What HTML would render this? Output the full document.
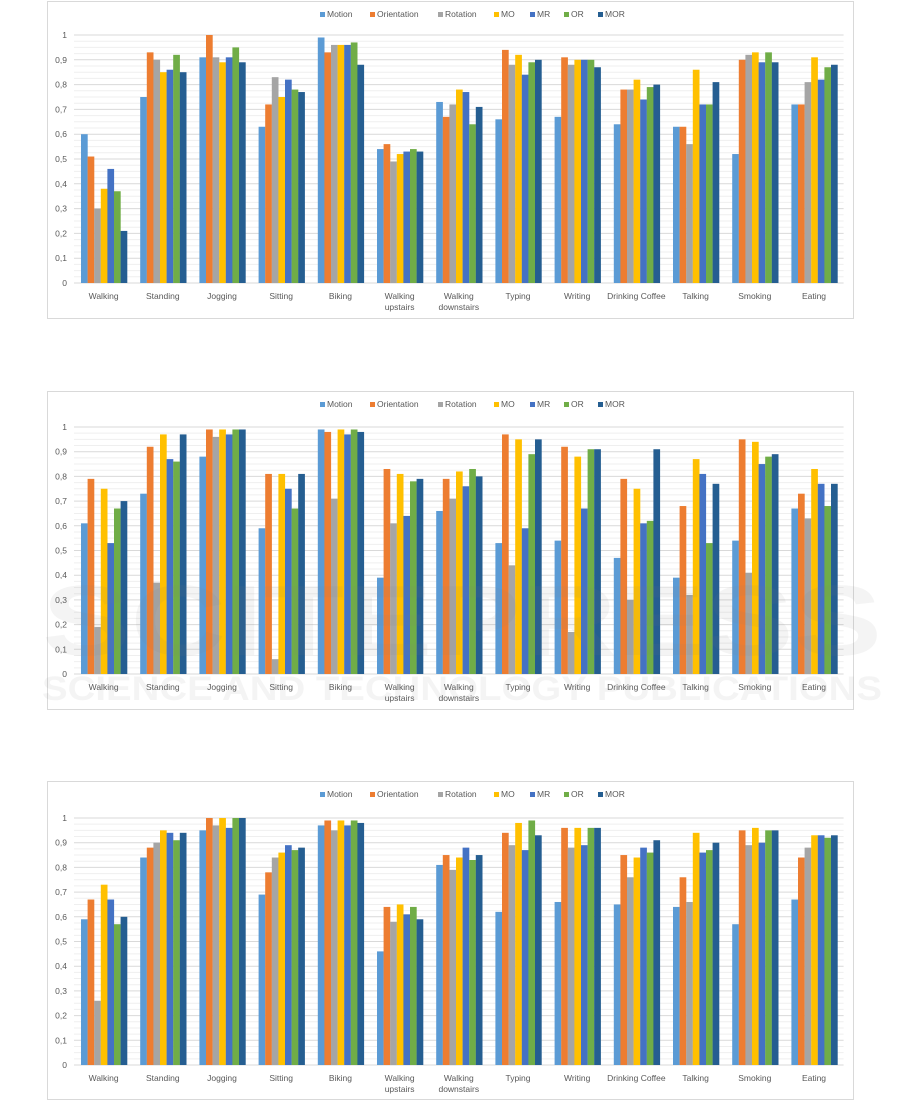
<!DOCTYPE html>
<html><head><meta charset="utf-8">
<style>
html,body{margin:0;padding:0;background:#fff;}
body{width:901px;height:1101px;position:relative;overflow:hidden;font-family:"Liberation Sans",sans-serif;}
svg{position:absolute;left:0;top:0;}
</style></head>
<body>
<svg id="s" width="901" height="1101" xmlns="http://www.w3.org/2000/svg"></svg>
<script>
const colors=["#5B9BD5","#ED7D31","#A5A5A5","#FFC000","#4472C4","#70AD47","#255E91"];
const names=["Motion","Orientation","Rotation","MO","MR","OR","MOR"];
const cats=[["Walking"],["Standing"],["Jogging"],["Sitting"],["Biking"],["Walking","upstairs"],["Walking","downstairs"],["Typing"],["Writing"],["Drinking Coffee"],["Talking"],["Smoking"],["Eating"]];
const data=[
[[.60,.51,.30,.38,.46,.37,.21],[.75,.93,.90,.85,.86,.92,.85],[.91,1.0,.91,.89,.91,.95,.89],[.63,.72,.83,.75,.82,.78,.77],[.99,.93,.96,.96,.96,.97,.88],[.54,.56,.49,.52,.53,.54,.53],[.73,.67,.72,.78,.77,.64,.71],[.66,.94,.88,.92,.84,.89,.90],[.67,.91,.88,.90,.90,.90,.87],[.64,.78,.78,.82,.74,.79,.80],[.63,.63,.56,.86,.72,.72,.81],[.52,.90,.92,.93,.89,.93,.89],[.72,.72,.81,.91,.82,.87,.88]],
[[.61,.79,.19,.75,.53,.67,.70],[.73,.92,.37,.97,.87,.86,.97],[.88,.99,.96,.99,.97,.99,.99],[.59,.81,.06,.81,.75,.67,.81],[.99,.98,.71,.99,.97,.99,.98],[.39,.83,.61,.81,.64,.78,.79],[.66,.79,.71,.82,.76,.83,.80],[.53,.97,.44,.95,.59,.89,.95],[.54,.92,.17,.88,.67,.91,.91],[.47,.79,.30,.75,.61,.62,.91],[.39,.68,.32,.87,.81,.53,.77],[.54,.95,.41,.94,.85,.88,.89],[.67,.73,.63,.83,.77,.68,.77]],
[[.59,.67,.26,.73,.67,.57,.60],[.84,.88,.90,.95,.94,.91,.94],[.95,1.0,.97,1.0,.96,1.0,1.0],[.69,.78,.84,.86,.89,.87,.88],[.97,.99,.95,.99,.97,.99,.98],[.46,.64,.58,.65,.61,.64,.59],[.81,.85,.79,.84,.88,.83,.85],[.62,.94,.89,.98,.87,.99,.93],[.66,.96,.88,.96,.89,.96,.96],[.65,.85,.76,.84,.88,.86,.91],[.64,.76,.66,.94,.86,.87,.90],[.57,.95,.89,.96,.90,.95,.95],[.67,.84,.88,.93,.93,.92,.93]]];
const charts=[{top:1,bot:318,y0:283,y1:35},{top:391,bot:709,y0:674,y1:427},{top:781,bot:1099,y0:1065,y1:818}];
let h="";
const L=74,CW=59.2,R=L+13*CW;
charts.forEach((c,ci)=>{
 h+=`<rect x="47.5" y="${c.top+.5}" width="806" height="${c.bot-c.top}" fill="#fff" stroke="#d9d9d9"/>`;
 const sc=c.y0-c.y1;
 for(let k=0;k<=40;k++){const y=c.y0-sc*k/40;if(k%4)h+=`<line x1="${L}" x2="${R}" y1="${y}" y2="${y}" stroke="#efefef" stroke-width="1"/>`;}
 for(let k=0;k<=10;k++){const y=c.y0-sc*k/10;h+=`<line x1="${L}" x2="${R}" y1="${y}" y2="${y}" stroke="#d9d9d9" stroke-width="1"/>`;
  h+=`<text x="67" y="${y+3}" font-size="8.5" fill="#595959" text-anchor="end">${k==0?"0":k==10?"1":"0,"+k}</text>`;}
 data[ci].forEach((vals,i)=>{
  const x0=L+i*CW+7;
  vals.forEach((v,j)=>{const bh=v*sc;h+=`<rect x="${x0+j*6.6}" y="${c.y0-bh}" width="6.7" height="${bh}" fill="${colors[j]}"/>`;});
  const cx=L+i*CW+CW/2;
  cats[i].forEach((t,li)=>{h+=`<text x="${cx}" y="${c.y0+16+li*11}" font-size="8.5" fill="#595959" text-anchor="middle">${t}</text>`;});
 });
 const ly=c.top+15;
 const widths=[40,58,46,26,24,24,30];let lx=320;
 names.forEach((n,j)=>{h+=`<rect x="${lx}" y="${ly-4}" width="5" height="5" fill="${colors[j]}"/><text x="${lx+7}" y="${ly+1}" font-size="8.5" fill="#595959">${n}</text>`;lx+=widths[j]+10;});
});
h+=`<g opacity="0.08" fill="#808080" font-weight="bold" text-anchor="middle">
<text x="462" y="655" font-size="100" textLength="840" lengthAdjust="spacingAndGlyphs">SCITEPRESS</text>
<text x="462" y="700" font-size="34" textLength="840" lengthAdjust="spacingAndGlyphs">SCIENCE AND TECHNOLOGY PUBLICATIONS</text></g>`;
document.getElementById("s").innerHTML=h;
</script>
</body></html>
